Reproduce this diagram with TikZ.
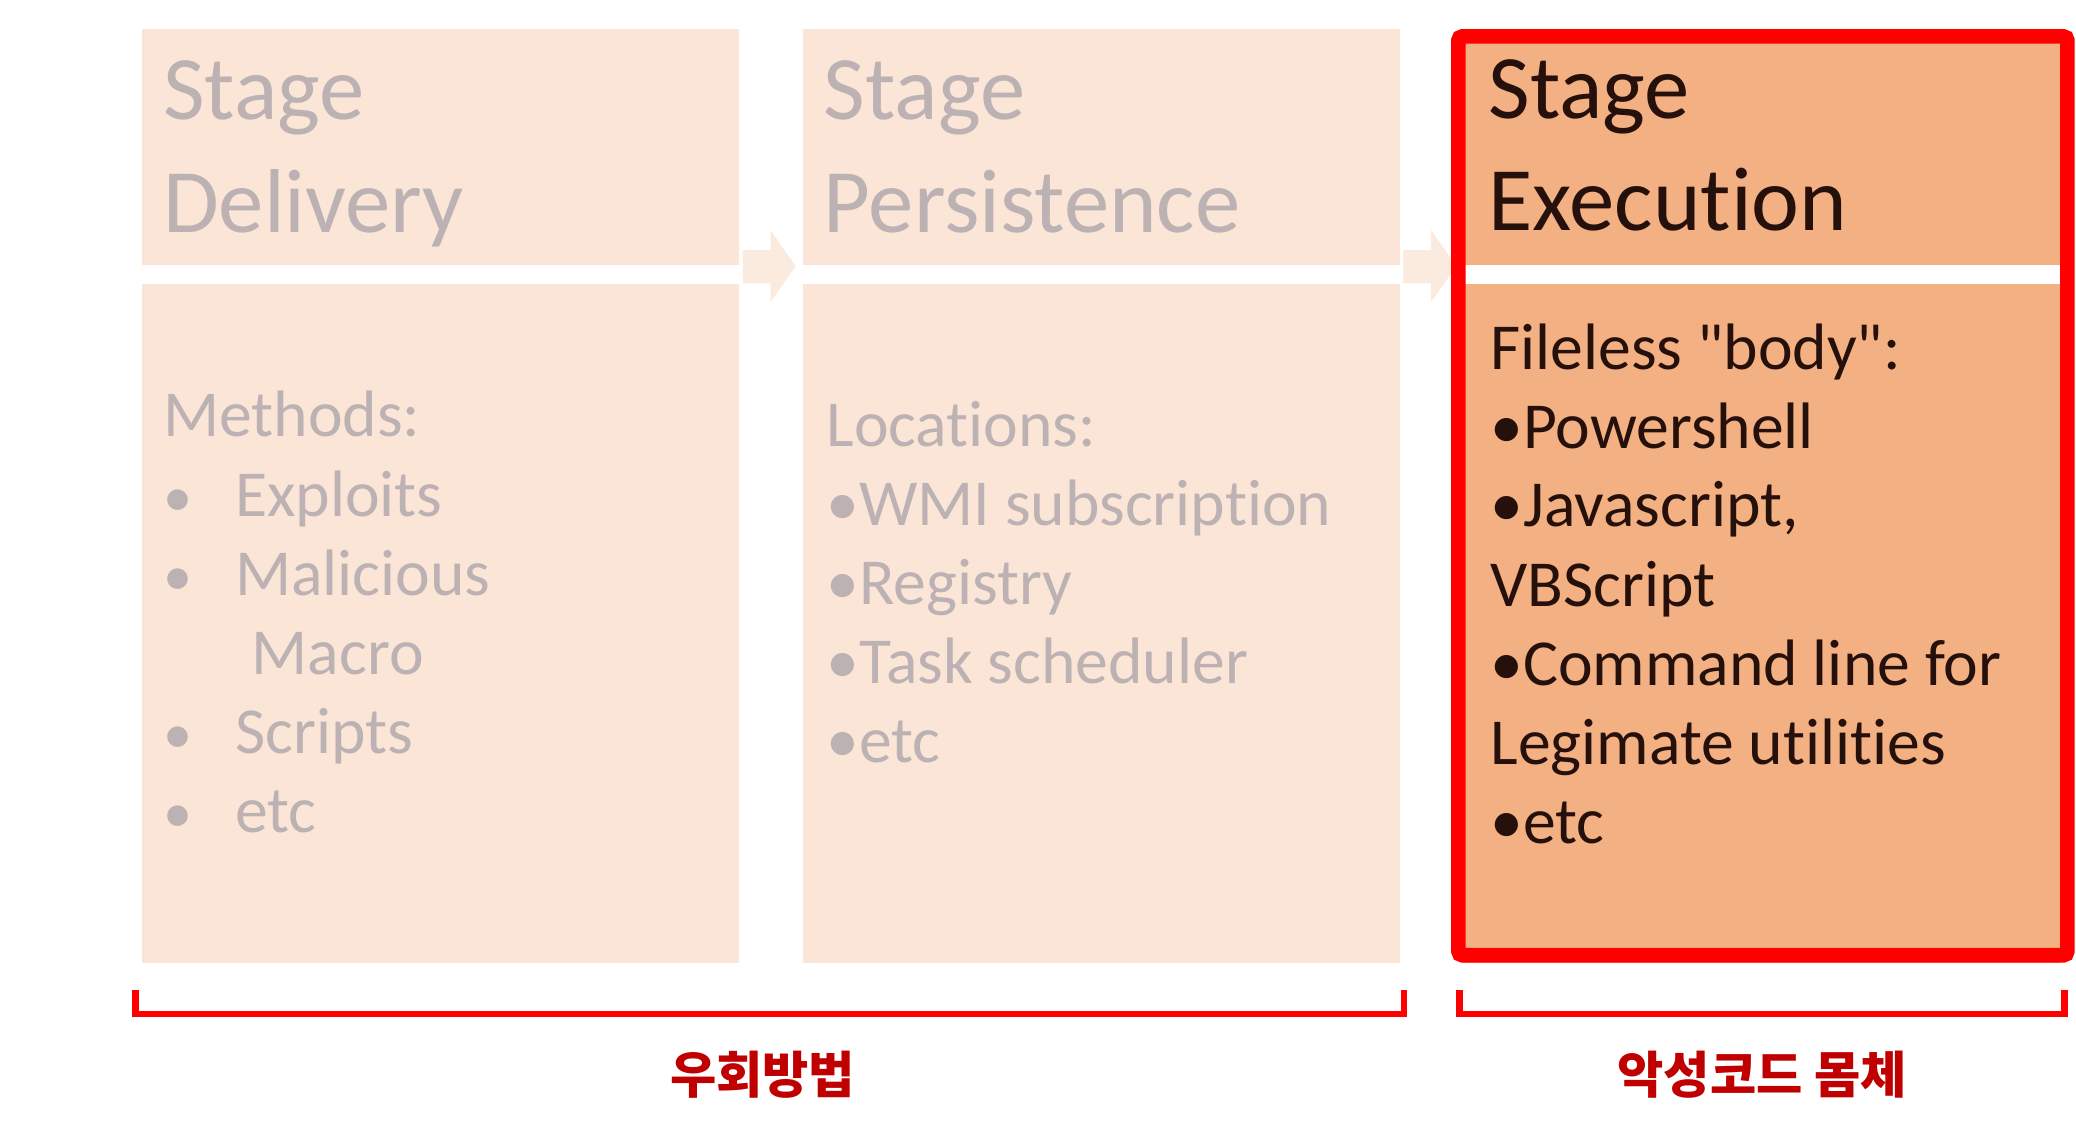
\documentclass[tikz,border=0pt]{standalone}
\usepackage{fontspec}
\newfontfamily\cfont{Carlito}[Ligatures=NoCommon]
\newfontfamily\krfont{Noto Sans CJK KR}
\definecolor{lightfill}{RGB}{251,229,214}
\definecolor{arrowfill}{RGB}{251,234,222}
\definecolor{execfill}{RGB}{243,177,131}
\definecolor{fadetext}{RGB}{188,178,180}
\definecolor{darktext}{RGB}{38,16,12}
\definecolor{redline}{RGB}{255,0,0}
\definecolor{krred}{RGB}{192,0,0}
\tikzset{
  part/.style={anchor=north west, inner sep=0pt, draw=none, minimum width=451pt},
  hd/.style={anchor=base west, inner sep=0pt, font=\cfont\fontsize{68.5}{80}\selectfont},
  bd/.style={anchor=base west, inner sep=0pt, font=\cfont\fontsize{49.6}{60}\selectfont},
  bul/.style={anchor=base west, inner sep=0pt, font=\cfont\fontsize{44}{60}\selectfont},
  fade/.style={text=fadetext},
  dark/.style={text=darktext},
  lbl/.style={inner sep=0pt, text=krred, font=\krfont\bfseries\fontsize{38}{46}\selectfont},
  brk/.style={draw=redline, line width=5pt},
  arr/.style={fill=arrowfill, draw=none},
  frame/.style={draw=redline, line width=11pt, rounded corners=3pt},
}
\begin{document}
\begin{tikzpicture}[x=1pt, y=-1pt]
\useasboundingbox (0,0) rectangle (1568,855);
% arrows
\fill[arr] (561,189) -- (582,189) -- (582,174) -- (601,201) -- (582,228) -- (582,214) -- (561,214) -- cycle;
\fill[arr] (1060,189) -- (1081,189) -- (1081,174) -- (1100,201) -- (1081,228) -- (1081,214) -- (1060,214) -- cycle;
% box 1
\node[part, fill=lightfill, minimum height=178pt] (h1) at (107,22) {};
\node[part, fill=lightfill, minimum height=513pt] (b1) at (107,214) {};
% box 2
\node[part, fill=lightfill, minimum height=178pt] (h2) at (606,22) {};
\node[part, fill=lightfill, minimum height=513pt] (b2) at (606,214) {};
% box 3
\node[part, fill=execfill, minimum height=178pt] (h3) at (1105,22) {};
\node[part, fill=execfill, minimum height=513pt] (b3) at (1105,214) {};
\draw[frame] (1101.5,27.5) rectangle (1561.5,721.5);
% headings
\node[hd, fade] (t1a) at (123,90.5) {Stage};
\node[hd, fade] (t1b) at (123,175.5) {Delivery};
\node[hd, fade] (t2a) at (622,90.5) {Stage};
\node[hd, fade] (t2b) at (622,175.5) {Persistence};
\node[hd, dark] (t3a) at (1124,89.5) {Stage};
\node[hd, dark] (t3b) at (1124,174) {Execution};
% box 1 body
\node[bd, fade] (m0) at (123,330) {Methods:};
\node[bul, fade] (m1b) at (123,390) {•};
\node[bd, fade] (m1) at (177.5,390) {Exploits};
\node[bul, fade] (m2b) at (123,449.5) {•};
\node[bd, fade] (m2) at (177.5,449.5) {Malicious};
\node[bd, fade] (m3) at (190,509.5) {Macro};
\node[bul, fade] (m4b) at (123,569) {•};
\node[bd, fade] (m4) at (177.5,569) {Scripts};
\node[bul, fade] (m5b) at (123,629) {•};
\node[bd, fade] (m5) at (177.5,629) {etc};
% box 2 body
\node[bd, fade] (l0) at (624,337) {Locations:};
\node[bd, fade] (l1) at (624,397) {•WMI subscription};
\node[bd, fade] (l2) at (624,456.5) {•Registry};
\node[bd, fade] (l3) at (624,516) {•Task scheduler};
\node[bd, fade] (l4) at (624,576) {•etc};
% box 3 body
\node[bd, dark] (f0) at (1125.5,279) {Fileless "body":};
\node[bd, dark] (f1) at (1125.5,338.5) {•Powershell};
\node[bd, dark] (f2) at (1125.5,398) {•Javascript,};
\node[bd, dark] (f3) at (1125.5,458) {VBScript};
\node[bd, dark] (f4) at (1125.5,518) {•Command line for};
\node[bd, dark] (f5) at (1125.5,577.5) {Legimate utilities};
\node[bd, dark] (f6) at (1125.5,637) {•etc};
% brackets
\coordinate (la) at (102.5,748);
\coordinate (lb) at (1060.5,748);
\coordinate (ra) at (1102.5,748);
\coordinate (rb) at (1559.5,748);
\draw[brk] (la) -- ++(0,18) -| (lb);
\draw[brk] (ra) -- ++(0,18) -| (rb);
% labels
\node[lbl] (k1) at (576,812) {우회방법};
\node[lbl] (k2) at (1331,812) {악성코드 몸체};
\end{tikzpicture}
\end{document}
